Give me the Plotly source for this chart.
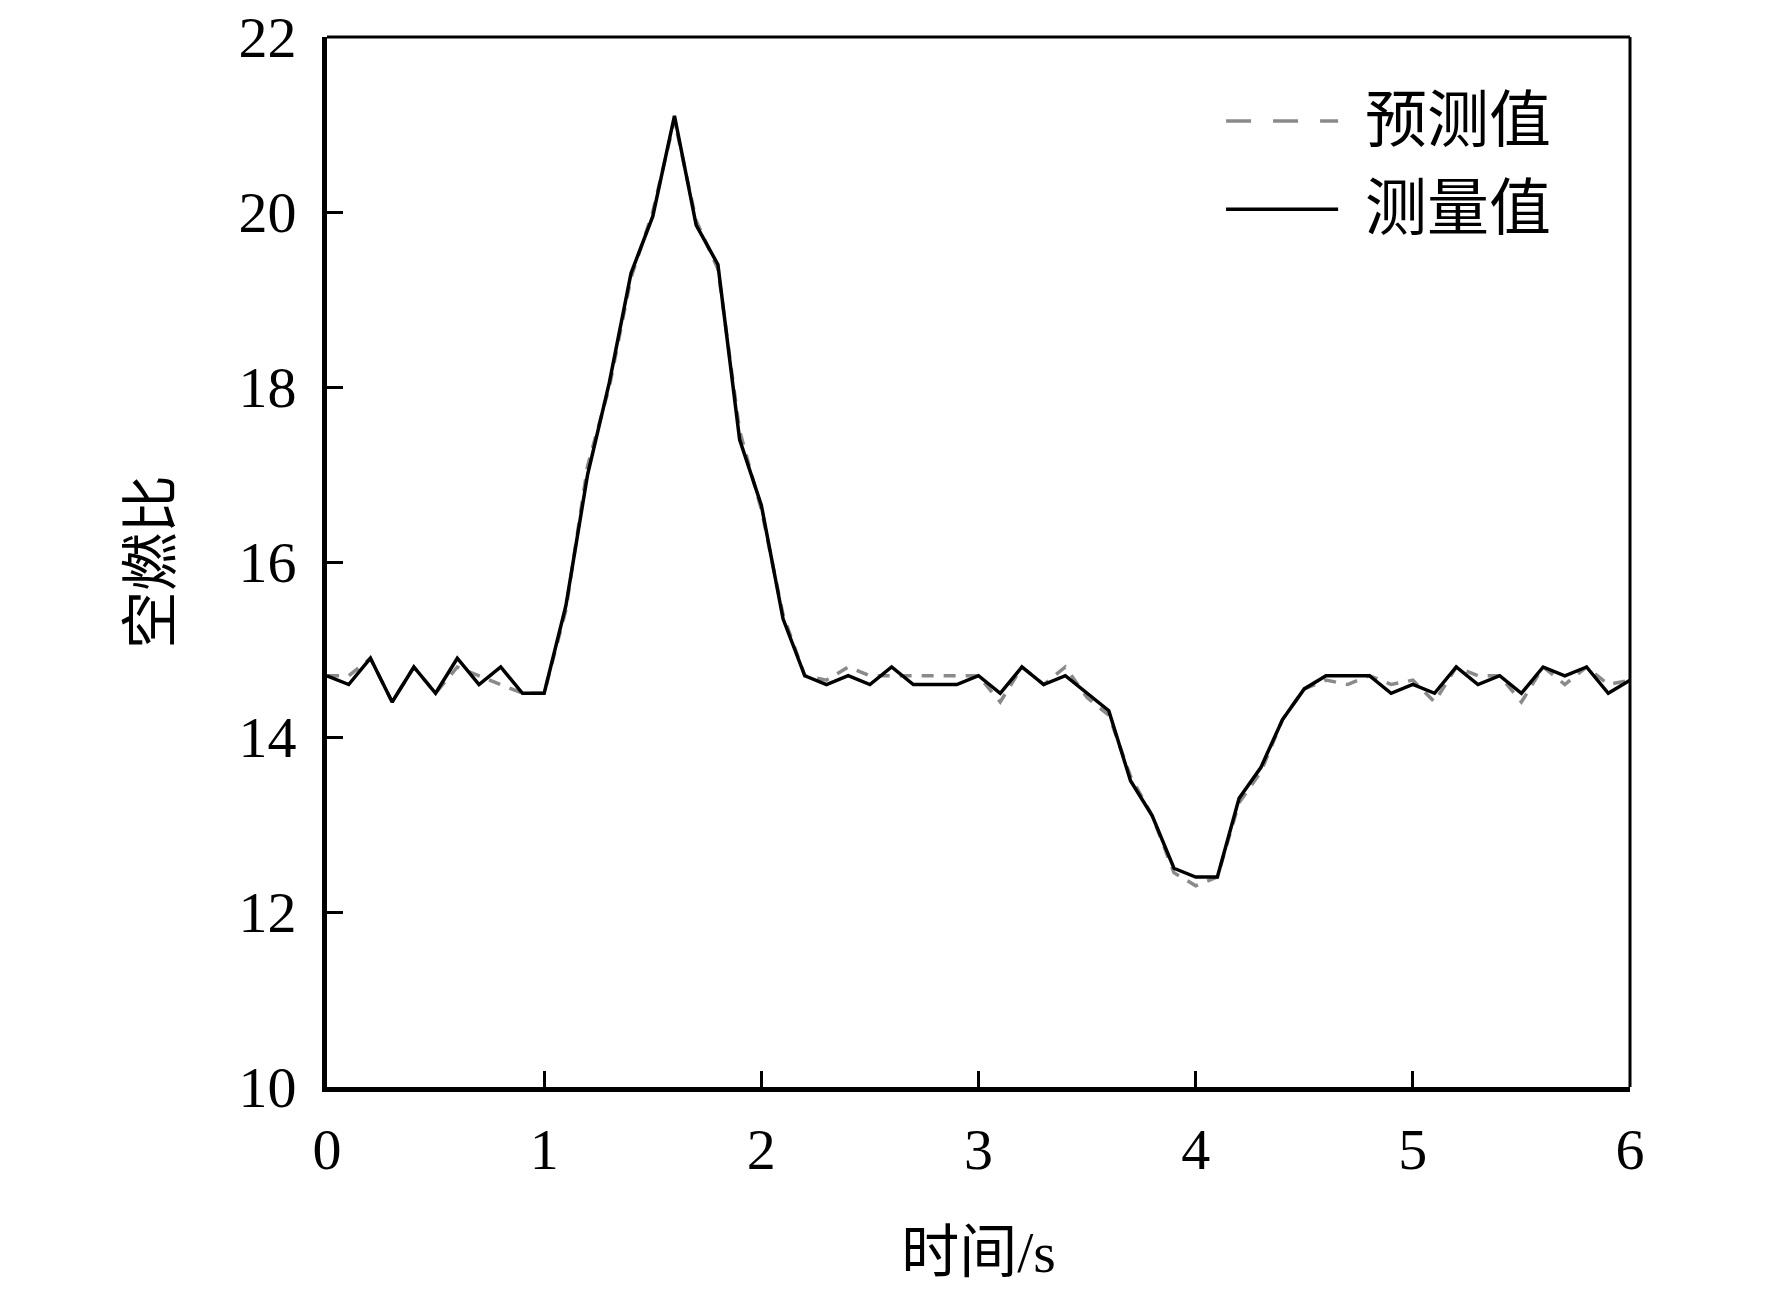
import plotly.graph_objects as go

time_s = [round(i * 0.1, 1) for i in range(61)]

measured = [14.7, 14.6, 14.9, 14.4, 14.8, 14.5, 14.9, 14.6, 14.8, 14.5,
            14.5, 15.5, 17.0, 18.05, 19.3, 19.95, 21.1, 19.85, 19.4, 17.4,
            16.65, 15.35, 14.7, 14.6, 14.7, 14.6, 14.8, 14.6, 14.6, 14.6,
            14.7, 14.5, 14.8, 14.6, 14.7, 14.5, 14.3, 13.5, 13.1, 12.5,
            12.4, 12.4, 13.3, 13.65, 14.2, 14.55, 14.7, 14.7, 14.7, 14.5,
            14.6, 14.5, 14.8, 14.6, 14.7, 14.5, 14.8, 14.7, 14.8, 14.5,
            14.65]

predicted = [14.7, 14.7, 14.9, 14.4, 14.8, 14.5, 14.8, 14.7, 14.6, 14.5,
             14.5, 15.45, 17.1, 18.0, 19.25, 20.0, 21.05, 19.9, 19.35, 17.5,
             16.6, 15.4, 14.7, 14.65, 14.8, 14.7, 14.7, 14.7, 14.7, 14.7,
             14.7, 14.4, 14.8, 14.6, 14.8, 14.45, 14.25, 13.55, 13.1, 12.45,
             12.3, 12.4, 13.25, 13.6, 14.2, 14.55, 14.65, 14.6, 14.7, 14.6,
             14.65, 14.4, 14.8, 14.7, 14.7, 14.4, 14.8, 14.6, 14.8, 14.6,
             14.65]

x_ticks = [0, 1, 2, 3, 4, 5, 6]
y_ticks = [10, 12, 14, 16, 18, 20, 22]
legend_names = ["预测值", "测量值"]
x_title = "时间/s"
y_title = "空燃比"

FONT = "Liberation Serif, Times New Roman, Noto Sans CJK SC, serif"

fig = go.Figure()
fig.add_trace(go.Scatter(x=time_s, y=predicted, mode="lines", name=legend_names[0],
                         line=dict(color="#8a8a8a", width=3.5, dash="12px,10px"),
                         showlegend=False))
fig.add_trace(go.Scatter(x=time_s, y=measured, mode="lines", name=legend_names[1],
                         line=dict(color="#000000", width=3.5),
                         showlegend=False))

axis_common = dict(showgrid=False, zeroline=False, showline=True, linecolor="black",
                   linewidth=5, ticks="inside", ticklen=16, tickwidth=2.5,
                   tickcolor="black", mirror=False, automargin=False,
                   ticklabeloverflow="allow",
                   tickfont=dict(family=FONT, size=58, color="black"))

fig.update_xaxes(range=[0, 6], tickvals=x_ticks, ticklabelstandoff=7,
                 title=dict(text=x_title, font=dict(family=FONT, size=58, color="black"), standoff=52),
                 **axis_common)
fig.update_yaxes(range=[10, 22], tickvals=y_ticks, ticklabelstandoff=14,
                 title=dict(text=y_title, font=dict(family=FONT, size=58, color="black"), standoff=50),
                 **axis_common)

shapes = [
    dict(type="line", xref="paper", yref="paper", x0=0, x1=1, y0=1, y1=1,
         line=dict(color="black", width=3)),
    dict(type="line", xref="paper", yref="paper", x0=1, x1=1, y0=0, y1=1,
         line=dict(color="black", width=3)),
    dict(type="line", xref="paper", yref="paper", x0=0.69, x1=0.776, y0=0.92, y1=0.92,
         line=dict(color="#8a8a8a", width=3.5, dash="25px,22px")),
    dict(type="line", xref="paper", yref="paper", x0=0.69, x1=0.776, y0=0.836, y1=0.836,
         line=dict(color="black", width=3.5)),
]
annotations = [
    dict(xref="paper", yref="paper", x=0.795, y=0.92, text=legend_names[0], showarrow=False,
         xanchor="left", yanchor="middle", font=dict(family=FONT, size=62, color="black")),
    dict(xref="paper", yref="paper", x=0.795, y=0.836, text=legend_names[1], showarrow=False,
         xanchor="left", yanchor="middle", font=dict(family=FONT, size=62, color="black")),
]

fig.update_layout(width=1772, height=1290, plot_bgcolor="white", paper_bgcolor="white",
                  margin=dict(l=327, r=142, t=37, b=203),
                  shapes=shapes, annotations=annotations, showlegend=False)

fig.write_html("out.html", config={"displayModeBar": False},
               post_script="document.body.style.margin='0px';")
